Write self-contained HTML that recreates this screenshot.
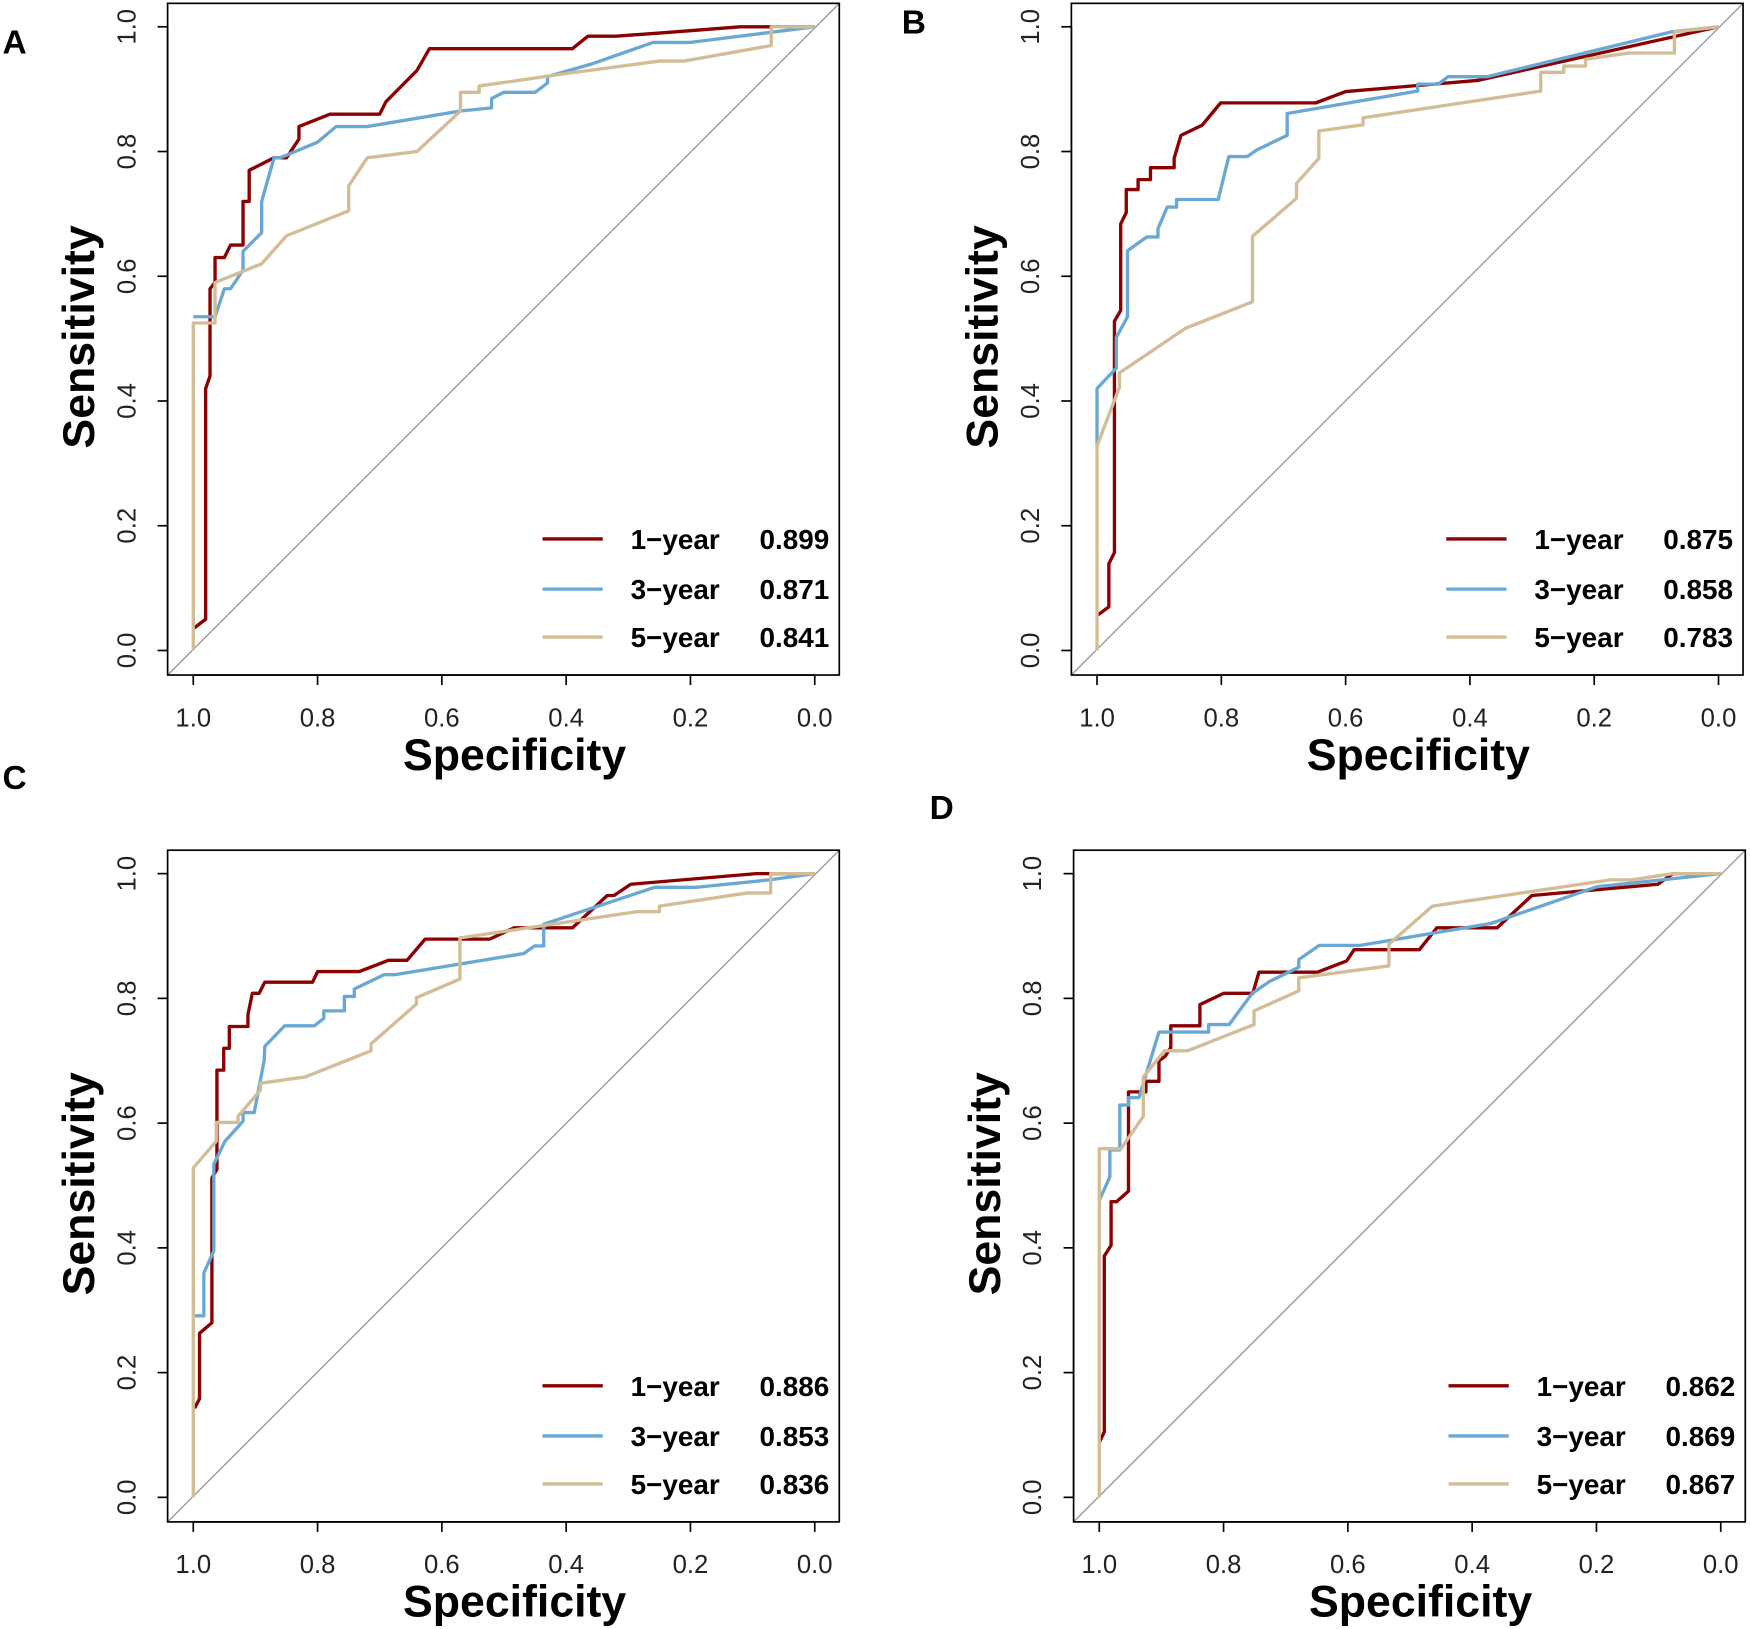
<!DOCTYPE html>
<html><head><meta charset="utf-8"><style>
html,body{margin:0;padding:0;background:#fff}
svg{display:block}
text{font-family:"Liberation Sans",Arial,sans-serif}
</style></head><body>
<svg id="fig" width="1750" height="1629" viewBox="0 0 1568 1460" xmlns="http://www.w3.org/2000/svg"></svg>
<script>
// ----- data (specificity, sensitivity) -----
const ticks = [0, 0.2, 0.4, 0.6, 0.8, 1.0];
const tickLabels = ["0.0","0.2","0.4","0.6","0.8","1.0"];
const seriesNames = ["1\u2212year","3\u2212year","5\u2212year"];
const aucA = ["0.899","0.871","0.841"];
const aucB = ["0.875","0.858","0.783"];
const aucC = ["0.886","0.853","0.836"];
const aucD = ["0.862","0.869","0.867"];

const specA1 = [1,0.98,0.98,0.973,0.973,0.965,0.965,0.95,0.94,0.92,0.92,0.91,0.91,0.87,0.85,0.83,0.83,0.78,0.70,0.69,0.64,0.62,0.39,0.365,0.32,0.25,0.12,0];
const sensA1 = [0.035,0.05,0.42,0.44,0.58,0.59,0.63,0.63,0.65,0.65,0.72,0.72,0.77,0.79,0.79,0.82,0.84,0.86,0.86,0.88,0.93,0.965,0.965,0.985,0.985,0.99,1,1];
const specA3 = [1,0.965,0.96,0.95,0.94,0.92,0.92,0.89,0.89,0.87,0.86,0.80,0.77,0.72,0.57,0.52,0.52,0.50,0.45,0.43,0.43,0.36,0.26,0.20,0];
const sensA3 = [0.535,0.535,0.55,0.58,0.58,0.61,0.64,0.67,0.72,0.79,0.79,0.815,0.84,0.84,0.865,0.87,0.885,0.895,0.895,0.91,0.92,0.94,0.975,0.975,1];
const specA5 = [1,1,0.965,0.965,0.89,0.85,0.75,0.75,0.72,0.64,0.57,0.57,0.54,0.54,0.40,0.25,0.21,0.07,0.07,0];
const sensA5 = [0,0.525,0.525,0.59,0.62,0.665,0.705,0.745,0.79,0.80,0.865,0.895,0.895,0.905,0.925,0.945,0.945,0.97,1,1];

const specB1 = [1,0.981,0.981,0.972,0.972,0.962,0.962,0.953,0.953,0.934,0.934,0.914,0.914,0.876,0.876,0.865,0.831,0.801,0.648,0.600,0.388,0];
const sensB1 = [0.056,0.07,0.139,0.157,0.528,0.545,0.684,0.702,0.739,0.739,0.755,0.755,0.774,0.774,0.789,0.826,0.842,0.878,0.878,0.896,0.914,1];
const specB3 = [1,1,0.969,0.969,0.951,0.951,0.92,0.902,0.902,0.887,0.872,0.872,0.805,0.788,0.758,0.742,0.694,0.694,0.484,0.484,0.451,0.435,0.372,0.075,0];
const sensB3 = [0.328,0.42,0.453,0.502,0.535,0.641,0.663,0.663,0.676,0.711,0.711,0.723,0.723,0.792,0.792,0.803,0.826,0.861,0.897,0.908,0.908,0.92,0.92,0.992,1];
const specB5 = [1,1,0.964,0.964,0.857,0.75,0.75,0.679,0.679,0.643,0.643,0.572,0.572,0.286,0.286,0.249,0.249,0.214,0.214,0.144,0.071,0.071,0];
const sensB5 = [0,0.328,0.422,0.445,0.517,0.559,0.664,0.725,0.749,0.789,0.833,0.843,0.854,0.897,0.927,0.927,0.937,0.937,0.948,0.958,0.958,0.992,1];

const specC1 = [0.998,0.99,0.99,0.97,0.97,0.962,0.962,0.951,0.951,0.942,0.942,0.912,0.912,0.905,0.894,0.885,0.808,0.8,0.733,0.686,0.656,0.627,0.523,0.484,0.39,0.334,0.323,0.296,0.094,0];
const sensC1 = [0.143,0.158,0.263,0.28,0.512,0.526,0.685,0.685,0.72,0.72,0.755,0.755,0.774,0.808,0.808,0.826,0.826,0.843,0.843,0.861,0.861,0.895,0.895,0.913,0.913,0.965,0.965,0.983,1,1];
const specC3 = [0.998,0.983,0.983,0.967,0.967,0.949,0.92,0.92,0.902,0.886,0.885,0.853,0.805,0.79,0.79,0.757,0.757,0.741,0.741,0.693,0.676,0.468,0.451,0.436,0.436,0.258,0.192,0.073,0];
const sensC3 = [0.291,0.291,0.36,0.395,0.534,0.571,0.603,0.617,0.617,0.7,0.723,0.756,0.756,0.768,0.78,0.78,0.803,0.803,0.815,0.838,0.838,0.872,0.884,0.884,0.919,0.978,0.978,0.99,1];
const specC5 = [1,1,0.963,0.963,0.928,0.928,0.892,0.892,0.82,0.714,0.714,0.641,0.641,0.571,0.571,0.286,0.25,0.25,0.108,0.071,0.071,0];
const sensC5 = [0,0.528,0.571,0.601,0.601,0.611,0.653,0.664,0.674,0.716,0.727,0.791,0.801,0.831,0.897,0.939,0.939,0.948,0.969,0.969,1,1];

const specD1 = [1,0.992,0.992,0.981,0.981,0.972,0.953,0.953,0.925,0.925,0.904,0.904,0.894,0.885,0.885,0.838,0.838,0.8,0.753,0.743,0.649,0.602,0.59,0.485,0.457,0.36,0.304,0.101,0.077,0];
const sensD1 = [0.088,0.105,0.387,0.404,0.474,0.474,0.491,0.65,0.65,0.667,0.667,0.7,0.707,0.721,0.756,0.756,0.79,0.808,0.808,0.842,0.842,0.86,0.878,0.878,0.913,0.913,0.965,0.983,1,1];
const specD3 = [1,0.983,0.983,0.967,0.967,0.953,0.953,0.936,0.904,0.824,0.824,0.791,0.754,0.726,0.679,0.679,0.646,0.58,0.37,0.199,0];
const sensD3 = [0.476,0.514,0.557,0.557,0.629,0.629,0.641,0.641,0.746,0.746,0.758,0.758,0.808,0.827,0.85,0.862,0.885,0.885,0.92,0.979,1];
const specD5 = [1,1,0.965,0.929,0.929,0.895,0.858,0.751,0.751,0.679,0.679,0.534,0.534,0.464,0.178,0.143,0.077,0];
const sensD5 = [0,0.559,0.559,0.611,0.674,0.716,0.716,0.758,0.78,0.812,0.833,0.852,0.887,0.948,0.99,0.99,1,1];

const colors = ["#8b0000","#6aa8d4","#d2bd96"];
const NS = "http://www.w3.org/2000/svg";
const svg = document.getElementById("fig");

function mk(tag, attrs, parent, txt) {
  const e = document.createElementNS(NS, tag);
  for (const k in attrs) e.setAttribute(k, attrs[k]);
  if (txt !== undefined) e.textContent = txt;
  parent.appendChild(e);
  return e;
}

function panel(id, ox, oy, series, aucs) {
  const g = mk("g", {transform: `translate(${ox},${oy})`}, svg);
  
  
  const x0 = 173, x1 = 730, y0 = 583, y1 = 24;
  const X = s => x0 + (1 - s) * (x1 - x0);
  const Y = v => y0 - v * (y0 - y1);
  const diag = mk("line", {x1: 150, y1: 605, x2: 752, y2: 3, stroke: "#999", "stroke-width": 1.2}, g);
  
  
  series.forEach((s, i) => {
    const pts = s[0].map((sp, j) => X(sp).toFixed(1) + "," + Y(s[1][j]).toFixed(1)).join(" ");
    const pl = mk("polyline", {points: pts, fill: "none", stroke: colors[i], "stroke-width": 3, "stroke-linejoin": "round"}, g);
    
    
  });
  const box = mk("rect", {x: 150, y: 3, width: 602, height: 602, fill: "none", stroke: "#000", "stroke-width": 1.5}, g);
  
  
  const xa = mk("g", {}, g);
  
  
  mk("line", {x1: X(1), y1: 605, x2: X(0), y2: 605, stroke: "#000", "stroke-width": 1.5}, xa);
  ticks.forEach((t, i) => {
    mk("line", {x1: X(t), y1: 605, x2: X(t), y2: 614, stroke: "#000", "stroke-width": 1.5}, xa);
    const tl = mk("text", {x: X(t), y: 651, "font-size": 23, "text-anchor": "middle", fill: "#222"}, xa, tickLabels[i]);
    
    
  });
  const xt = mk("text", {x: 461, y: 690, "font-size": 40, "font-weight": "bold", "text-anchor": "middle"}, g, "Specificity");
  
  
  const ya = mk("g", {}, g);
  
  
  mk("line", {x1: 150, y1: Y(0), x2: 150, y2: Y(1), stroke: "#000", "stroke-width": 1.5}, ya);
  ticks.forEach((t, i) => {
    mk("line", {x1: 141, y1: Y(t), x2: 150, y2: Y(t), stroke: "#000", "stroke-width": 1.5}, ya);
    const tl = mk("text", {x: 0, y: 0, "font-size": 23, "text-anchor": "middle", fill: "#222", transform: `translate(121,${Y(t)}) rotate(-90)`}, ya, tickLabels[i]);
    
    
  });
  const yt = mk("text", {x: 0, y: 0, "font-size": 40, "font-weight": "bold", "text-anchor": "middle", transform: "translate(84,302) rotate(-90)"}, g, "Sensitivity");
  
  
  const lg = mk("g", {}, g);
  
  
  const ly = [483, 528, 571];
  seriesNames.forEach((n, i) => {
    const e = mk("g", {}, lg);
    
    
    mk("line", {x1: 486, y1: ly[i], x2: 540, y2: ly[i], stroke: colors[i], "stroke-width": 3}, e);
    mk("text", {x: 565, y: ly[i] + 9, "font-size": 25, "font-weight": "bold"}, e, n);
    mk("text", {x: 743, y: ly[i] + 9, "font-size": 25, "font-weight": "bold", "text-anchor": "end"}, e, aucs[i]);
  });
}

panel("a", 0, 0, [[specA1, sensA1], [specA3, sensA3], [specA5, sensA5]], aucA);
panel("b", 810, 0, [[specB1, sensB1], [specB3, sensB3], [specB5, sensB5]], aucB);
panel("c", 0, 759, [[specC1, sensC1], [specC3, sensC3], [specC5, sensC5]], aucC);
panel("d", 812, 759, [[specD1, sensD1], [specD3, sensD3], [specD5, sensD5]], aucD);

const letters = [["A", 2, 48], ["B", 808, 30], ["C", 2, 707], ["D", 833, 734]];
letters.forEach(l => {
  const t = mk("text", {x: l[1], y: l[2], "font-size": 30, "font-weight": "bold"}, svg, l[0]);
  
  
});
</script>
</body></html>
